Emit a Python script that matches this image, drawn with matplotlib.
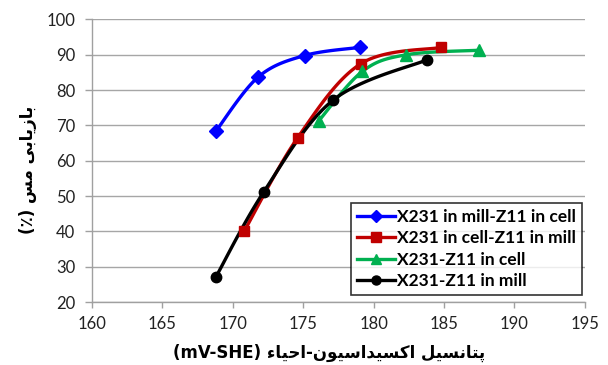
import numpy as np
import matplotlib
matplotlib.use("Agg")
import matplotlib.pyplot as plt

# ---------------- data ----------------
labels = ["X231 in mill-Z11 in cell", "X231 in cell-Z11 in mill",
          "X231-Z11 in cell", "X231-Z11 in mill"]
blue_x = [168.8, 171.8, 175.1, 179.0]
blue_y = [68.4, 83.7, 89.8, 92.1]
red_x = [170.8, 174.6, 179.1, 184.8]
red_y = [40.0, 66.5, 87.5, 92.1]
green_x = [176.1, 179.2, 182.3, 187.5]
green_y = [71.3, 85.3, 90.0, 91.3]
black_x = [168.8, 172.2, 177.1, 183.8]
black_y = [27.1, 51.2, 77.1, 88.6]
x_ticks = [160, 165, 170, 175, 180, 185, 190, 195]
y_ticks = [20, 30, 40, 50, 60, 70, 80, 90, 100]

xlabel_fa = "پتانسیل اکسیداسیون-احیاء"
ylabel_fa = "بازیابی مس"

# ------------- minimal Arabic/Persian shaping -------------
FORMS = {  # isolated, final, initial, medial
    'ا': ('\uFE8D', '\uFE8E', None, None),
    'ب': ('\uFE8F', '\uFE90', '\uFE91', '\uFE92'),
    'پ': ('\uFB56', '\uFB57', '\uFB58', '\uFB59'),
    'ت': ('\uFE95', '\uFE96', '\uFE97', '\uFE98'),
    'ح': ('\uFEA1', '\uFEA2', '\uFEA3', '\uFEA4'),
    'د': ('\uFEA9', '\uFEAA', None, None),
    'ز': ('\uFEAF', '\uFEB0', None, None),
    'س': ('\uFEB1', '\uFEB2', '\uFEB3', '\uFEB4'),
    'ک': ('\uFB8E', '\uFB8F', '\uFB90', '\uFB91'),
    'ل': ('\uFEDD', '\uFEDE', '\uFEDF', '\uFEE0'),
    'م': ('\uFEE1', '\uFEE2', '\uFEE3', '\uFEE4'),
    'ن': ('\uFEE5', '\uFEE6', '\uFEE7', '\uFEE8'),
    'و': ('\uFEED', '\uFEEE', None, None),
    'ی': ('\uFBFC', '\uFBFD', '\uFBFE', '\uFBFF'),
    'ء': ('\uFE80', None, None, None),
}


def joins_next(c):
    return c in FORMS and FORMS[c][2] is not None


def joins_prev(c):
    return c in FORMS and FORMS[c][1] is not None


def shape(text):
    out = []
    for i, c in enumerate(text):
        if c not in FORMS:
            out.append(c)
            continue
        prev = text[i - 1] if i > 0 else ''
        nxt = text[i + 1] if i + 1 < len(text) else ''
        p = joins_next(prev) and joins_prev(c)
        n = joins_next(c) and joins_prev(nxt)
        iso, fin, ini, med = FORMS[c]
        if p and n:
            out.append(med)
        elif p:
            out.append(fin)
        elif n:
            out.append(ini)
        else:
            out.append(iso)
    return ''.join(out)[::-1]


# ------------- smoothing like Excel's smoothed line -------------
def smooth(xs, ys, n=40, t=1 / 6):
    xs = np.asarray(xs, float)
    ys = np.asarray(ys, float)
    px, py = [xs[0]], [ys[0]]
    for i in range(len(xs) - 1):
        x0, y0 = (xs[i - 1], ys[i - 1]) if i > 0 else (xs[i], ys[i])
        x3, y3 = (xs[i + 2], ys[i + 2]) if i + 2 < len(xs) else (xs[i + 1], ys[i + 1])
        x1, y1 = xs[i], ys[i]
        x2, y2 = xs[i + 1], ys[i + 1]
        c1x, c1y = x1 + (x2 - x0) * t, y1 + (y2 - y0) * t
        c2x, c2y = x2 - (x3 - x1) * t, y2 - (y3 - y1) * t
        s = np.linspace(0, 1, n)[1:]
        bx = (1 - s) ** 3 * x1 + 3 * (1 - s) ** 2 * s * c1x + 3 * (1 - s) * s ** 2 * c2x + s ** 3 * x2
        by = (1 - s) ** 3 * y1 + 3 * (1 - s) ** 2 * s * c1y + 3 * (1 - s) * s ** 2 * c2y + s ** 3 * y2
        px.extend(bx)
        py.extend(by)
    return np.array(px), np.array(py)


plt.rcParams['font.family'] = ['Lato', 'DejaVu Sans']

fig = plt.figure(figsize=(6.08, 3.65), dpi=100)
ax = fig.add_axes([0.1513, 0.1726, 0.8107, 0.774])

series = [
    (blue_x, blue_y, '#0000FF', 'D', 7),
    (red_x, red_y, '#C00000', 's', 7.5),
    (green_x, green_y, '#00B050', '^', 8),
    (black_x, black_y, '#000000', 'o', 7.5),
]
handles = []
for (xs, ys, col, mk, ms), lab in zip(series, labels):
    sx, sy = smooth(xs, ys)
    ax.plot(sx, sy, color=col, lw=2.4, zorder=3, solid_capstyle='round')
    ax.plot(xs, ys, ls='none', marker=mk, color=col, ms=ms, zorder=4)
    h, = ax.plot([], [], color=col, lw=2.4, marker=mk, ms=ms - 1, label=lab)
    handles.append(h)

ax.set_xlim(160, 195)
ax.set_ylim(20, 100)
ax.set_xticks(x_ticks)
ax.set_yticks(y_ticks)
ax.tick_params(axis='both', labelsize=12, length=4, color='#A0A0A0', width=1,
               direction='out', pad=6, labelcolor='#222222')
ax.tick_params(axis='y', length=5, pad=7)
ax.yaxis.grid(True, color='#A6A6A6', lw=1)
ax.set_axisbelow(True)
for s in ['top', 'right']:
    ax.spines[s].set_visible(False)
for s in ['left', 'bottom']:
    ax.spines[s].set_color('#A0A0A0')
    ax.spines[s].set_linewidth(1)

ax.set_xlabel('(mV-SHE) ' + shape(xlabel_fa), fontsize=12, fontweight='bold',
              family=['DejaVu Sans'])
ax.xaxis.set_label_coords(0.482, -0.149)
ax.set_ylabel('(\u066A) ' + shape(ylabel_fa), fontsize=12, fontweight='bold',
              family=['DejaVu Sans'])
ax.yaxis.set_label_coords(-0.1116, 0.468)

leg = ax.legend(handles=handles, loc='lower right', bbox_to_anchor=(0.994, 0.025),
                frameon=True, fancybox=False, prop={'weight': 'bold', 'size': 12.5},
                handlelength=2.2, handletextpad=0.1, borderpad=0.35, labelspacing=0.3,
                borderaxespad=0)
leg.get_frame().set_edgecolor('#000000')
leg.get_frame().set_linewidth(1.2)

fig.savefig('out.png', dpi=100)
